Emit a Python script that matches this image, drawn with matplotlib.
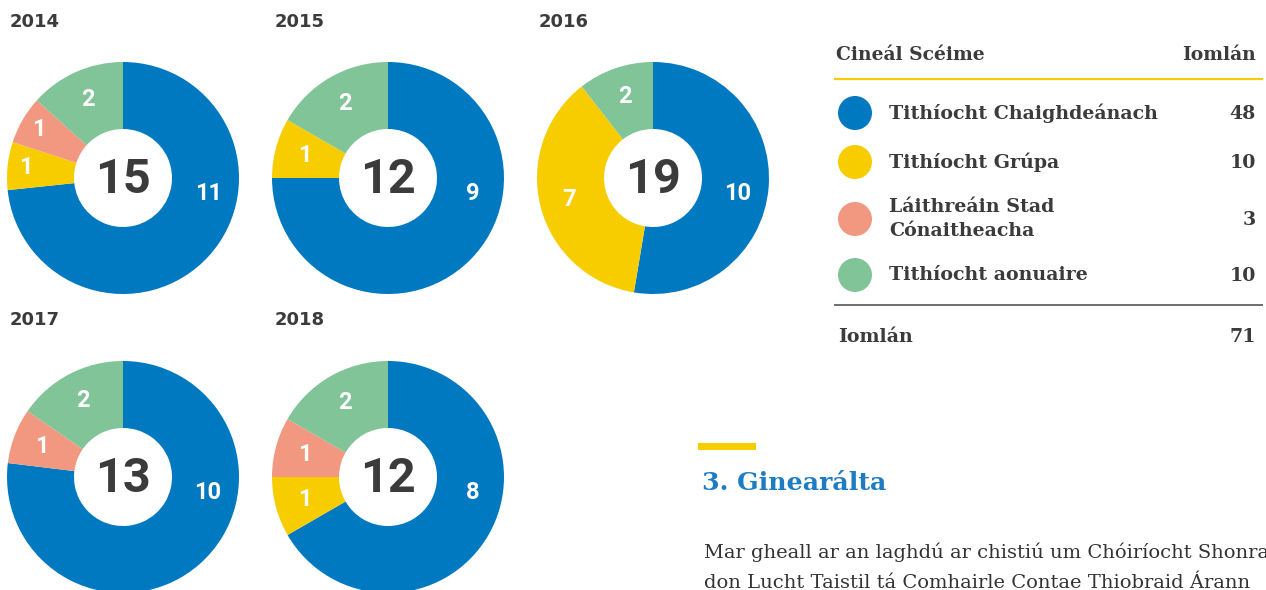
import numpy as np
import matplotlib
matplotlib.use("Agg")
import matplotlib.pyplot as plt
from matplotlib.patches import Circle

# ---- data ----
years = ["2014", "2015", "2016", "2017", "2018"]
categories = ["Tithíocht Chaighdeánach", "Tithíocht Grúpa",
              "Láithreáin Stad\nCónaitheacha", "Tithíocht aonuaire"]
colors = ["#0079C1", "#F7CD00", "#F29880", "#80C498"]
# counts per year in category order: standard, group, halting sites, one-off
standard = [11, 9, 10, 10, 8]
group = [1, 1, 7, 0, 1]
halting = [1, 0, 0, 1, 1]
oneoff = [2, 2, 2, 2, 2]
table_totals = [48, 10, 3, 10]
grand_total = 71

header_left = "Cineál Scéime"
header_right = "Iomlán"
section_title = "3. Ginearálta"
body_lines = ["Mar gheall ar an laghdú ar chistiú um Chóiríocht Shonraithe",
              "don Lucht Taistil tá Comhairle Contae Thiobraid Árann"]

W, H = 1266, 590
fig = plt.figure(figsize=(W / 100, H / 100), dpi=100)
ax = fig.add_axes([0, 0, 1, 1])

def py(y):
    """convert a top-down pixel row into the axes' upward coordinate"""
    return H - y

dark = "#3b3b3b"
sans = ["DejaVu Sans"]
num_font = ["Roboto", "DejaVu Sans"]
slab = ["DejaVu Serif"]

centers = [(123, 178), (388, 178), (653, 178), (123, 477), (388, 477)]
R_OUT, R_IN = 116, 49
title_pos = [(10, 22), (275, 22), (539, 22), (10, 320), (275, 320)]

for i, yr in enumerate(years):
    vals = [standard[i], group[i], halting[i], oneoff[i]]
    cx, cy = centers[i]
    keep = [(v, c) for v, c in zip(vals, colors) if v > 0]
    v_list = [k[0] for k in keep]
    c_list = [k[1] for k in keep]
    ax.pie(v_list, colors=c_list, center=(cx, py(cy)), radius=R_OUT,
           startangle=90, counterclock=False,
           wedgeprops=dict(width=R_OUT - R_IN, linewidth=0))
    total = sum(v_list)
    # slice labels
    start = 0.0
    for v in v_list:
        frac = v / total
        mid = start + frac * 180.0  # degrees clockwise from top
        ang = 100.0 if frac > 0.5 else mid
        # very thin wedges get their label pushed toward the rim
        r = (0.84 if frac < 0.07 else 0.745) * R_OUT
        x = cx + r * np.sin(np.radians(ang))
        y = cy - r * np.cos(np.radians(ang))
        ax.text(x, py(y), str(v), ha="center", va="center", color="white",
                fontsize=17, fontweight="bold", family=num_font)
        start += frac * 360.0
    ax.text(cx, py(cy + 2), str(total), ha="center", va="center", color=dark,
            fontsize=35, fontweight="bold", family=num_font)
    tx, ty = title_pos[i]
    ax.text(tx, py(ty), yr, ha="left", va="center", color=dark,
            fontsize=13, fontweight="bold", family=sans)

# ---- summary table ----
ax.text(836, py(55), header_left, ha="left", va="center", color=dark,
        fontsize=13.5, fontweight="bold", family=slab)
ax.text(1256, py(55), header_right, ha="right", va="center", color=dark,
        fontsize=13.5, fontweight="bold", family=slab)
ax.plot([834, 1263], [py(79), py(79)], color="#F7CD00", lw=1.6,
        solid_capstyle="butt")

row_y = [113, 162, 219, 275]
for label, val, col, ry in zip(categories, table_totals, colors, row_y):
    ax.add_patch(Circle((855, py(ry)), 17, color=col, lw=0))
    ax.text(889, py(ry), label, ha="left", va="center", color=dark,
            fontsize=13.7, fontweight="bold", family=slab, linespacing=1.5)
    ax.text(1256, py(ry + 1), str(val), ha="right", va="center", color=dark,
            fontsize=13.7, fontweight="bold", family=slab)

ax.plot([834, 1263], [py(305), py(305)], color="#555555", lw=1.2,
        solid_capstyle="butt")
ax.text(838, py(337), "Iomlán", ha="left", va="center", color=dark,
        fontsize=13.7, fontweight="bold", family=slab)
ax.text(1256, py(337), str(grand_total), ha="right", va="center", color=dark,
        fontsize=13.7, fontweight="bold", family=slab)

# ---- section heading and body ----
ax.add_patch(plt.Rectangle((698, py(450)), 58, 7, color="#F7CD00", lw=0))
ax.text(702, py(483), section_title, ha="left", va="center", color="#1E7DC2",
        fontsize=18.2, fontweight="bold", family=slab)
for k, line in enumerate(body_lines):
    ax.text(704, py(552 + 31 * k), line, ha="left", va="center",
            color="#333333", fontsize=14, family=slab)

ax.set_xlim(0, W)
ax.set_ylim(0, H)
ax.set_aspect("equal")
ax.axis("off")
fig.savefig("out.png", dpi=100)
